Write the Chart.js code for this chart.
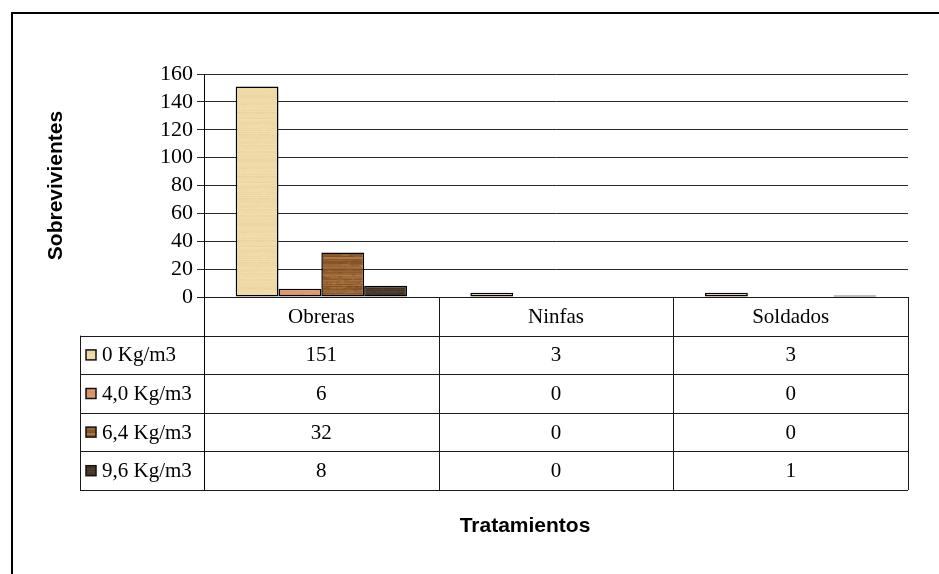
<!DOCTYPE html>
<html>
<head>
<meta charset="utf-8">
<title>Sobrevivientes por tratamiento</title>
<script src="https://cdn.jsdelivr.net/npm/chart.js@4.4.1/dist/chart.umd.min.js"></script>
<style>
  html, body { margin: 0; padding: 0; background: #fff; }
  canvas { display: block; }
</style>
</head>
<body>
<canvas id="grafico" width="939" height="574"></canvas>
<script>
// castas evaluadas y dosis aplicadas
const castas = ['Obreras', 'Ninfas', 'Soldados'];
const dosis = ['0 Kg/m3', '4,0 Kg/m3', '6,4 Kg/m3', '9,6 Kg/m3'];

// sobrevivientes por dosis (una lista por serie, en el orden de castas)
const dosis0 = [151, 3, 3];
const dosis40 = [6, 0, 0];
const dosis64 = [32, 0, 0];
const dosis96 = [8, 0, 1];

const ticksY = [0, 20, 40, 60, 80, 100, 120, 140, 160];

// texturas tipo papel / madera para las barras
function textura(base, vetas, alto, fuerza) {
    const c = document.createElement('canvas');
    c.width = 48; c.height = alto;
    const g = c.getContext('2d');
    g.fillStyle = base;
    g.fillRect(0, 0, c.width, c.height);
    let s = 7;
    const rnd = () => { s = (s * 9301 + 49297) % 233280; return s / 233280; };
    for (let y = 0; y < alto; y++) {
        const v = vetas[Math.floor(rnd() * vetas.length)];
        g.globalAlpha = fuerza * (0.4 + rnd() * 0.6);
        g.fillStyle = v;
        g.fillRect(0, y, c.width, 1);
    }
    for (let i = 0; i < 80; i++) {
        g.globalAlpha = fuerza * 0.5;
        g.fillStyle = vetas[i % vetas.length];
        g.fillRect(Math.floor(rnd() * 48), Math.floor(rnd() * alto), 2 + Math.floor(rnd() * 6), 2);
    }
    g.globalAlpha = 1;
    return c;
}

const ctx = document.getElementById('grafico').getContext('2d');
const rellenos = [
    ctx.createPattern(textura('#efdaa6', ['#f5e8c2', '#e4cc92', '#f0dcaa'], 64, 0.3), 'repeat'),
    ctx.createPattern(textura('#dc966a', ['#e3a47a', '#d38a5d', '#df9c70'], 40, 0.5), 'repeat'),
    ctx.createPattern(textura('#925f31', ['#b07a44', '#6f421d', '#a06b38', '#7d4c24', '#c08a52'], 44, 0.6), 'repeat'),
    ctx.createPattern(textura('#4a3828', ['#5a4533', '#3b2b1e', '#523e2d'], 30, 0.5), 'repeat')
];

const series = [dosis0, dosis40, dosis64, dosis96];

const serif = '"Liberation Serif", "Times New Roman", serif';
const sans = '"Liberation Sans", Arial, sans-serif';

// marco exterior y eje X con tabla de datos debajo del area de trazado
const tablaDatos = {
    id: 'tablaDatos',
    afterDraw(chart) {
        const { ctx, chartArea: a, scales: { x } } = chart;
        const filaH = 38.6;
        const izq = 80;
        const medio = (x.getPixelForValue(1) - x.getPixelForValue(0)) / 2;
        const fondo = a.bottom + filaH * 5;

        ctx.save();
        ctx.strokeStyle = '#1a1a1a';
        ctx.lineWidth = 1;

        // lineas horizontales
        ctx.beginPath();
        ctx.moveTo(a.left - 7, a.bottom + 0.5);
        ctx.lineTo(a.right, a.bottom + 0.5);
        for (let r = 1; r <= 5; r++) {
            const y = Math.round(a.bottom + filaH * r) + 0.5;
            ctx.moveTo(izq, y);
            ctx.lineTo(a.right, y);
        }
        // lineas verticales
        const cortes = [a.left];
        castas.forEach((c, i) => cortes.push(x.getPixelForValue(i) + medio));
        cortes.forEach(cx => {
            const px = Math.round(cx) + 0.5;
            ctx.moveTo(px, a.bottom);
            ctx.lineTo(px, fondo);
        });
        ctx.moveTo(izq + 0.5, a.bottom + filaH);
        ctx.lineTo(izq + 0.5, fondo);
        ctx.stroke();

        ctx.fillStyle = '#000';
        ctx.font = '21px ' + serif;
        ctx.textAlign = 'center';
        ctx.textBaseline = 'middle';
        castas.forEach((c, i) => {
            ctx.fillText(c, x.getPixelForValue(i), a.bottom + filaH / 2 + 1);
        });
        series.forEach((datos, r) => {
            const yc = a.bottom + filaH * (r + 1.5) + 1;
            datos.forEach((v, i) => {
                ctx.textAlign = 'center';
                ctx.fillText(String(v), x.getPixelForValue(i), yc);
            });
            // muestra de color de la serie
            ctx.fillStyle = rellenos[r];
            ctx.fillRect(86, yc - 6, 10, 10);
            ctx.strokeStyle = '#111';
            ctx.lineWidth = 1.5;
            ctx.strokeRect(86, yc - 6, 10, 10);
            ctx.fillStyle = '#000';
            ctx.textAlign = 'left';
            ctx.fillText(dosis[r], 102, yc);
        });

        // titulo del eje X
        ctx.font = 'bold 21px ' + sans;
        ctx.textAlign = 'center';
        ctx.fillText('Tratamientos', 525, 526);

        // marco del grafico
        ctx.strokeStyle = '#000';
        ctx.lineWidth = 2;
        ctx.beginPath();
        ctx.moveTo(12, chart.height);
        ctx.lineTo(12, 13);
        ctx.lineTo(chart.width, 13);
        ctx.stroke();

        // eje Y prolongado hasta el pie de la tabla
        ctx.lineWidth = 1;
        ctx.beginPath();
        ctx.moveTo(Math.round(a.left) + 0.5, a.top);
        ctx.lineTo(Math.round(a.left) + 0.5, fondo);
        ctx.stroke();
        ctx.restore();
    }
};

new Chart(ctx, {
    type: 'bar',
    data: {
        labels: castas,
        datasets: series.map((datos, i) => ({
            label: dosis[i],
            data: datos,
            backgroundColor: rellenos[i],
            borderColor: '#000',
            borderWidth: 1.5,
            borderSkipped: false,
            categoryPercentage: 0.73,
            barPercentage: 1
        }))
    },
    options: {
        responsive: false,
        devicePixelRatio: 1,
        animation: false,
        layout: {
            padding: { left: 40, right: 31, top: 74, bottom: 277 }
        },
        plugins: {
            legend: { display: false },
            tooltip: { enabled: false }
        },
        scales: {
            x: {
                display: false
            },
            y: {
                min: 0,
                max: 160,
                afterFit(scale) { scale.width = 164; },
                afterBuildTicks(scale) { scale.ticks = ticksY.map(v => ({ value: v })); },
                ticks: {
                    color: '#000',
                    padding: 4,
                    autoSkip: false,
                    font: { family: serif, size: 22 }
                },
                grid: {
                    color: '#2a2a2a',
                    tickLength: 7
                },
                border: { color: '#000' },
                title: {
                    display: true,
                    text: 'Sobrevivientes',
                    color: '#000',
                    font: { family: sans, size: 21, weight: 'bold' }
                }
            }
        }
    },
    plugins: [tablaDatos]
});
</script>
</body>
</html>
